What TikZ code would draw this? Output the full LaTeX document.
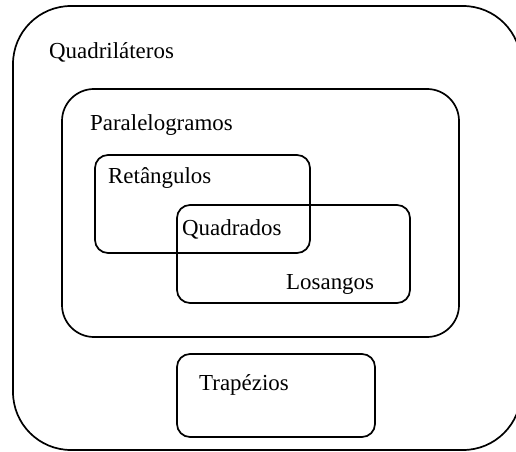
\documentclass[tikz,border=0pt]{standalone}
\usepackage{fontspec}
\setmainfont{Liberation Serif}
\usetikzlibrary{positioning}
\tikzset{
  setbox/.style={line width=1.7bp},
  setlabel/.style={anchor=base west, inner sep=0pt, font=\fontsize{23}{27}\selectfont}
}

\begin{document}
\begin{tikzpicture}[x=1bp, y=-1bp]
    \useasboundingbox (0,0) rectangle (516,452);

    % Quadrilaterals
    \draw[setbox, rounded corners=58bp] (13,6) rectangle (521,450);
    \node[setlabel] (quadrilateros) at (49,59) {Quadriláteros};

    % Parallelograms
    \draw[setbox, rounded corners=32bp] (62,89) rectangle (459,337);
    \node[setlabel] (paralelogramos) at (90,131) {Paralelogramos};

    % Rectangles and rhombi
    \draw[setbox, rounded corners=13bp] (95,155) rectangle (310,253);
    \node[setlabel] (retangulos) at (108,184) {Retângulos};
    \draw[setbox, rounded corners=13bp] (177,205) rectangle (410,303);
    \node[setlabel] (quadrados) at (182,236) {Quadrados};
    \node[setlabel] (losangos) at (286,289) {Losangos};

    % Trapezoids
    \draw[setbox, rounded corners=13bp] (177,354) rectangle (375,437);
    \node[setlabel] (trapezios) at (199,390) {Trapézios};
\end{tikzpicture}
\end{document}
